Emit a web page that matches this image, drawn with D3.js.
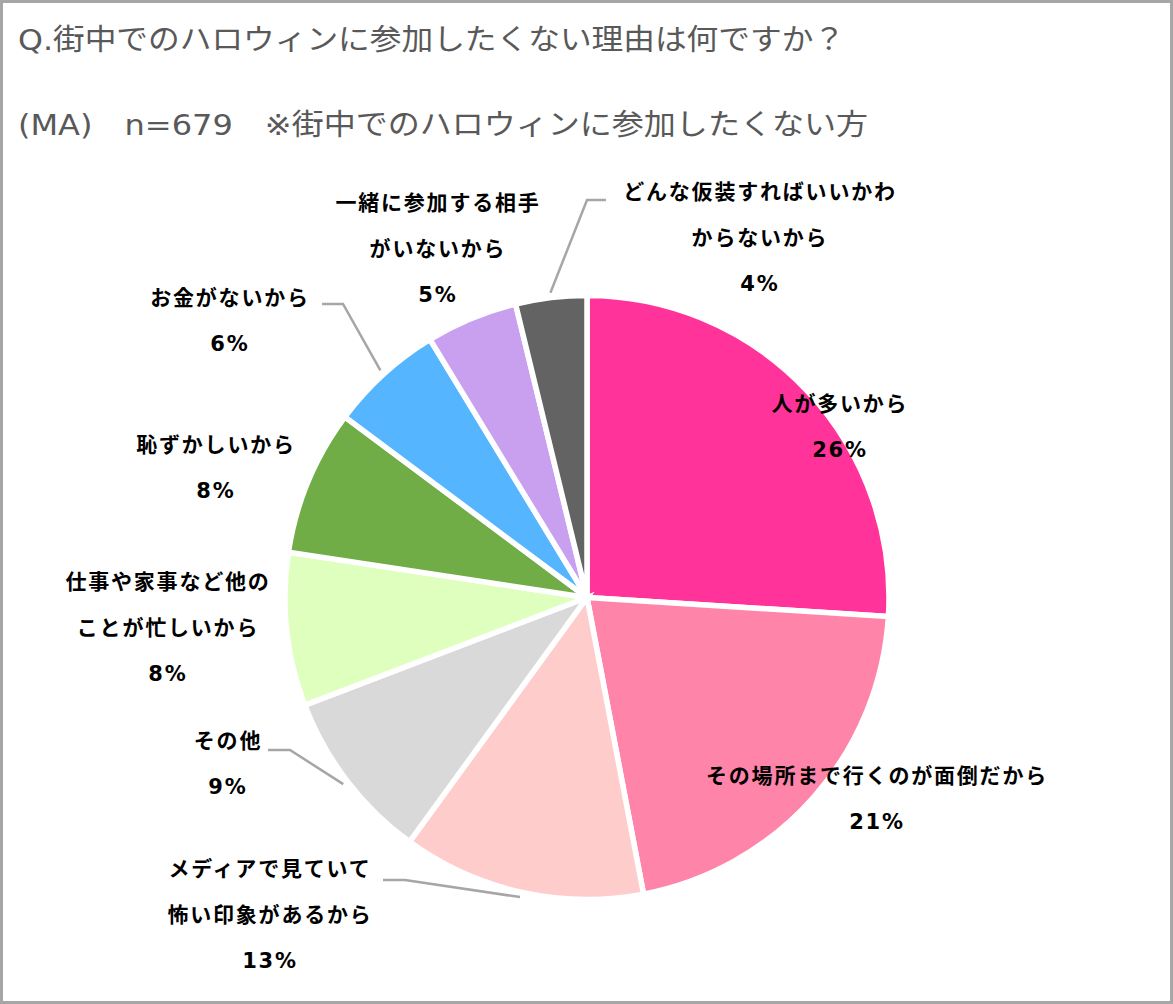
<!DOCTYPE html>
<html>
<head>
<meta charset="utf-8">
<script src="https://cdn.jsdelivr.net/npm/d3@7"></script>
<style>
	body { margin: 0; background: #fff; }
	svg { display: block; }
</style>
</head>
<body>
<div id="chart"></div>
<script>
var width = 1173;
var height = 1004;

// data
var categories = [
	["人が多いから"],
	["その場所まで行くのが面倒だから"],
	["メディアで見ていて", "怖い印象があるから"],
	["その他"],
	["仕事や家事など他の", "ことが忙しいから"],
	["恥ずかしいから"],
	["お金がないから"],
	["一緒に参加する相手", "がいないから"],
	["どんな仮装すればいいかわ", "からないから"]
];
var values = [26, 21, 13, 9.2, 8.2, 7.8, 6.1, 4.9, 3.8];
var pctLabels = ["26%", "21%", "13%", "9%", "8%", "8%", "6%", "5%", "4%"];
var colors = ["#FF3399", "#FF84AA", "#FFCCCC", "#D9D9D9", "#DFFFBF", "#70AD47", "#56B5FF", "#C9A0F0", "#636363"];
var titleLines = ["Q.街中でのハロウィンに参加したくない理由は何ですか？", "(MA)　n=679　※街中でのハロウィンに参加したくない方"];

// layout (label block centres, leader elbows)
var labelPos = [[840, 404], [877, 776], [270, 869], [228, 741], [168, 582], [216, 445], [230, 298], [438, 203], [760, 192]];
var leaders = {
	2: [[383, 880], [405, 880]],
	3: [[268, 750], [290, 750]],
	6: [[322, 304], [343, 304]],
	8: [[606, 200], [587, 200]]
};

var cx = 587, cy = 597.5, radius = 302;

var svg = d3.select("#chart").append("svg")
	.attr("width", width)
	.attr("height", height);

svg.append("rect")
	.attr("x", 1.5).attr("y", 1.5)
	.attr("width", width - 3).attr("height", height - 3)
	.attr("fill", "#fff")
	.attr("stroke", "#A6A6A6")
	.attr("stroke-width", 3);

svg.selectAll("text.title")
	.data(titleLines)
	.enter()
	.append("text")
	.attr("class", "title")
	.attr("x", 18)
	.attr("y", function (d, i) { return i == 0 ? 40 : 125; })
	.attr("dominant-baseline", "central")
	.attr("textLength", function (d, i) { return i == 0 ? 827 : 850; })
	.attr("lengthAdjust", "spacingAndGlyphs")
	.style("font-family", "'DejaVu Sans', 'Noto Sans CJK JP', sans-serif")
	.style("font-size", "29px")
	.style("fill", "#595959")
	.text(function (d) { return d; });

var pie = d3.pie().sort(null).value(function (d) { return d; });
var arcs = pie(values);
var arc = d3.arc().innerRadius(0).outerRadius(radius);

var g = svg.append("g")
	.attr("transform", "translate(" + cx + "," + cy + ")");

g.selectAll("path")
	.data(arcs)
	.enter()
	.append("path")
	.attr("d", arc)
	.attr("fill", function (d, i) { return colors[i]; })
	.attr("stroke", "#fff")
	.attr("stroke-width", 5.5);

// leader lines: from label elbow to slice edge at mid angle
var line = d3.line();
Object.keys(leaders).forEach(function (k) {
	var a = arcs[k];
	var mid = (a.startAngle + a.endAngle) / 2;
	var end = [cx + Math.sin(mid) * (radius + 5), cy - Math.cos(mid) * (radius + 5)];
	var pts = leaders[k].concat([end]);
	svg.append("path")
		.attr("d", line(pts))
		.attr("fill", "none")
		.attr("stroke", "#A6A6A6")
		.attr("stroke-width", 2.5);
});

var labels = svg.selectAll("g.label")
	.data(categories)
	.enter()
	.append("g")
	.attr("class", "label");

labels.each(function (d, i) {
	var lines = d.concat([pctLabels[i]]);
	var sel = d3.select(this);
	lines.forEach(function (t, j) {
		sel.append("text")
			.attr("x", labelPos[i][0])
			.attr("y", labelPos[i][1] + j * 46)
			.attr("text-anchor", "middle")
			.attr("dominant-baseline", "central")
			.style("font-family", "'DejaVu Sans', 'Noto Sans CJK JP', sans-serif")
			.style("font-weight", "bold")
			.style("font-size", "21px")
			.style("letter-spacing", "1.8px")
			.style("fill", "#000")
			.text(t);
	});
});
</script>
</body>
</html>
